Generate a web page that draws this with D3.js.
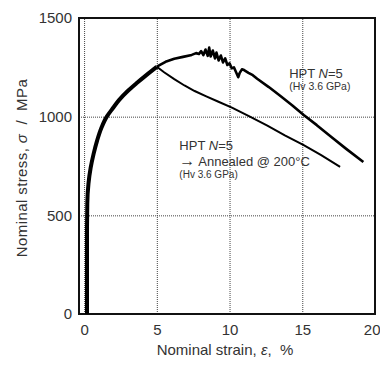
<!DOCTYPE html>
<html>
<head>
<meta charset="utf-8">
<script src="https://cdn.jsdelivr.net/npm/d3@7"></script>
<style>
  body { margin: 0; background: #fff; }
  text { font-family: "Liberation Sans", Arial, sans-serif; fill: #333; white-space: pre; }
</style>
</head>
<body>
<svg></svg>
<script>
var width = 380;
var height = 365;

// shared loading part (both specimens)
var sharedStrain = [0.2, 0.2, 0.22, 0.3, 0.45, 0.65, 0.9, 1.2, 1.56, 2.0, 2.4, 3.0, 3.6, 4.3, 5.0];
var sharedStress = [0, 400, 560, 660, 740, 810, 880, 945, 1000, 1045, 1084, 1130, 1169, 1212, 1253];

// HPT N=5 continued
var hptStrain = [5.0, 5.6, 6.2, 6.8, 7.4, 7.7, 7.9, 8.05, 8.2, 8.35, 8.5, 8.6, 8.7, 8.85, 9.0, 9.1, 9.25, 9.4, 9.55, 9.7,
                 9.85, 10.0, 10.15, 10.3, 10.45, 10.6, 10.7, 10.85, 11.0, 11.3, 11.6, 11.9, 12.7, 13.5, 14.3, 15.1, 16.0, 17.0, 18.0, 19.2];
var hptStress = [1253, 1278, 1293, 1303, 1313, 1322, 1318, 1332, 1312, 1340, 1308, 1350, 1305, 1335, 1295, 1325, 1285, 1310, 1275, 1295,
                 1262, 1270, 1245, 1250, 1225, 1200, 1222, 1240, 1236, 1222, 1210, 1192, 1150, 1105, 1058, 1008, 957, 897, 838, 770];

// HPT N=5 -> annealed @ 200C
var annStrain = [5.0, 5.5, 6.2, 6.9, 7.6, 8.4, 9.2, 10.2, 11.4, 12.6, 13.8, 15.1, 16.3, 17.6];
var annStress = [1253, 1225, 1190, 1158, 1130, 1103, 1077, 1045, 1000, 955, 905, 856, 805, 746];

var xTicks = [0, 5, 10, 15, 20];
var yTicks = [0, 500, 1000, 1500];

var margin = {left: 79, right: 5, top: 18, bottom: 51};
var plotW = width - margin.left - margin.right;
var plotH = height - margin.top - margin.bottom;

var svg = d3.select("svg")
            .attr("width", width)
            .attr("height", height);

var x = d3.scaleLinear().domain([-0.35, 20]).range([0, plotW]);
var y = d3.scaleLinear().domain([0, 1500]).range([plotH, 0]);

var g = svg.append("g").attr("transform", "translate(" + margin.left + "," + margin.top + ")");

// grid
g.append("g")
  .attr("transform", "translate(0," + plotH + ")")
  .call(d3.axisBottom(x).tickValues(xTicks).tickSize(-plotH).tickFormat(""))
  .call(function(a) {
    a.select(".domain").remove();
    a.selectAll("line").attr("stroke", "#444").attr("stroke-dasharray", "1,1");
  });
g.append("g")
  .call(d3.axisLeft(y).tickValues(yTicks).tickSize(-plotW).tickFormat(""))
  .call(function(a) {
    a.select(".domain").remove();
    a.selectAll("line").attr("stroke", "#444").attr("stroke-dasharray", "1,1");
  });

// tick labels
g.append("g")
  .attr("transform", "translate(0," + plotH + ")")
  .call(d3.axisBottom(x).tickValues(xTicks).tickSize(0).tickPadding(10).tickFormat(d3.format("d")))
  .call(function(a) {
    a.select(".domain").remove();
    a.selectAll("text").attr("font-size", 15).style("font-family", "Liberation Sans, Arial, sans-serif").attr("fill", "#333");
    // last label sits flush with the right edge
    a.selectAll("text").filter(function(d) { return d === 20; })
      .attr("text-anchor", "end").attr("dx", 5);
  });
g.append("g")
  .call(d3.axisLeft(y).tickValues(yTicks).tickSize(0).tickPadding(7).tickFormat(d3.format("d")))
  .call(function(a) {
    a.select(".domain").remove();
    a.selectAll("text").attr("font-size", 15).style("font-family", "Liberation Sans, Arial, sans-serif").attr("fill", "#333");
  });

// frame
g.append("rect")
  .attr("width", plotW).attr("height", plotH)
  .attr("fill", "none").attr("stroke", "#111").attr("stroke-width", 2);

function pairs(xs, ys) {
  return xs.map(function(v, i) { return [v, ys[i]]; });
}

var line = d3.line()
  .x(function(d) { return x(d[0]); })
  .y(function(d) { return y(d[1]); });

g.append("path").datum(pairs(annStrain, annStress))
  .attr("d", line).attr("fill", "none").attr("stroke", "#000").attr("stroke-width", 2);
g.append("path").datum(pairs(hptStrain, hptStress))
  .attr("d", line).attr("fill", "none").attr("stroke", "#000").attr("stroke-width", 2.6)
  .attr("stroke-linejoin", "round");
g.append("path").datum(pairs(sharedStrain, sharedStress))
  .attr("d", line.curve(d3.curveMonotoneY)).attr("fill", "none").attr("stroke", "#000").attr("stroke-width", 4);

// annotations
function label(sx, sy, size, parts) {
  var t = g.append("text").attr("x", x(sx)).attr("y", y(sy)).attr("font-size", size);
  parts.forEach(function(p) {
    t.append("tspan").text(p[0]).attr("font-style", p[1] === "i" ? "italic" : null)
      .attr("font-size", p[1] === "big" ? size + 3 : null);
  });
}
label(14.1, 1196, 13, [["HPT "], ["N", "i"], ["=5"]]);
label(14.1, 1135, 10.5, [["(Hv 3.6 GPa)"]]);
label(6.55, 830, 13, [["HPT "], ["N", "i"], ["=5"]]);
label(6.55, 750, 13, [["\u2192", "big"], [" Annealed @ 200\u00b0C"]]);
label(6.55, 689, 10, [["(Hv 3.6 GPa)"]]);

// axis titles
var xt = svg.append("text")
  .attr("x", margin.left + plotW / 2 - 2).attr("y", 355)
  .attr("text-anchor", "middle").attr("font-size", 15);
xt.append("tspan").text("Nominal strain, ");
xt.append("tspan").text("\u03b5").attr("font-style", "italic");
xt.append("tspan").text(",  %");

var yt = svg.append("text")
  .attr("transform", "translate(27," + (margin.top + plotH / 2 + 2) + ") rotate(-90)")
  .attr("text-anchor", "middle").attr("font-size", 15).attr("letter-spacing", 0.4);
yt.append("tspan").text("Nominal stress, ");
yt.append("tspan").text("\u03c3").attr("font-style", "italic");
yt.append("tspan").text("  /  MPa");
</script>
</body>
</html>
